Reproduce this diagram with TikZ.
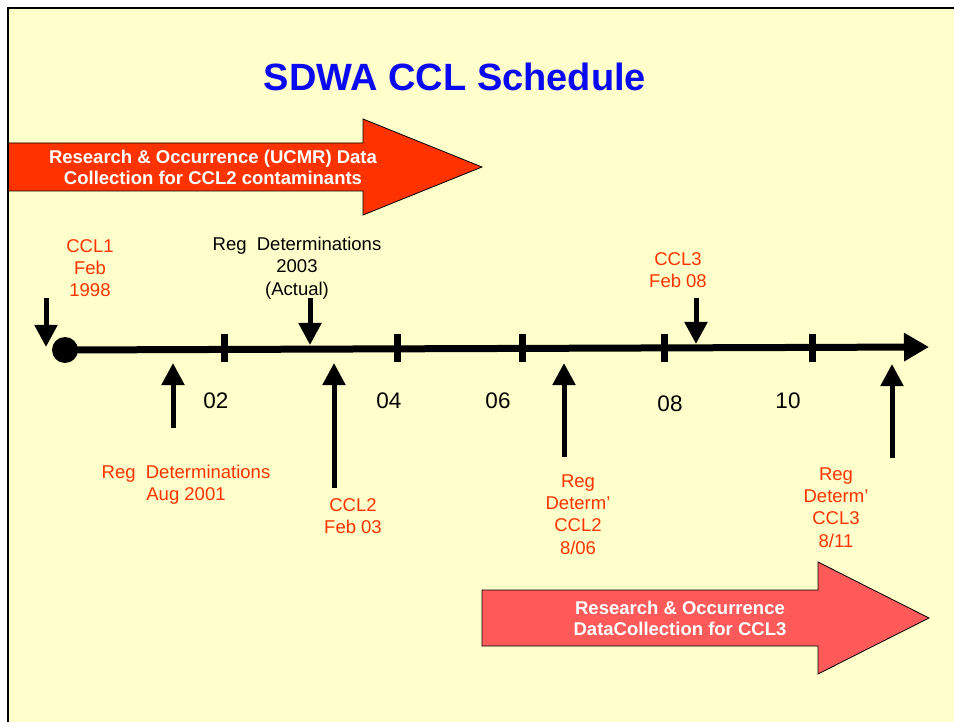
\documentclass[tikz,border=0pt]{standalone}
\usepackage{fontspec}
\setmainfont{Liberation Sans}
\usetikzlibrary{arrows.meta}
\definecolor{bgyellow}{HTML}{FFFFCC}
\definecolor{redtxt}{HTML}{FF3300}
\definecolor{topfill}{HTML}{FF3300}
\definecolor{botfill}{HTML}{FF5A5A}
\definecolor{titleblue}{HTML}{0A0AF0}
\tikzset{
  lbl/.style={align=center, inner sep=0pt, font=\fontsize{18.5}{22.3}\selectfont},
  redlbl/.style={lbl, text=redtxt},
  blklbl/.style={lbl, text=black},
  yearlbl/.style={inner sep=0pt, font=\fontsize{22.5}{26}\selectfont},
  bandtxt/.style={align=center, inner sep=0pt, text=white, font=\fontsize{18.5}{21.5}\selectfont\bfseries},
  evarrow/.style={line width=5pt, -{Triangle[width=22pt,length=22pt]}},
  tickmark/.style={fill=black, minimum width=7pt, minimum height=28pt, inner sep=0pt, draw=none},
  band/.style={draw=black, line width=0.8pt},
}
\begin{document}
\begin{tikzpicture}[x=1pt,y=-1pt]
\useasboundingbox (0,0) rectangle (954,722);
\clip (0,0) rectangle (954,722);
\fill[white] (0,0) rectangle (954,722);
\fill[bgyellow] (8,8) rectangle (960,730);

% title
\node[inner sep=0pt, text=titleblue, font=\fontsize{38}{44}\selectfont\bfseries] (title) at (455,77) {SDWA CCL Schedule};

% top band arrow
\draw[band, fill=topfill] (8.5,143) -- (363,143) -- (363,119) -- (482,167) -- (363,215) -- (363,191) -- (8.5,191) -- cycle;
\node[bandtxt] (topband) at (213,167.5) {Research \& Occurrence (UCMR) Data\\Collection for CCL2 contaminants};

% bottom band arrow
\draw[band, fill=botfill] (482,590) -- (818,590) -- (818,562) -- (929,618) -- (818,674) -- (818,646) -- (482,646) -- cycle;
\node[bandtxt] (botband) at (680,618.5) {Research \& Occurrence\\DataCollection for CCL3};

% timeline
\node[circle, fill=black, minimum size=26pt, inner sep=0pt] (start) at (65,350) {};
\coordinate (tend) at (929,347);
\draw[line width=7pt, -{Triangle[width=27pt,length=25pt]}] (start.center) -- (tend);

% ticks
\node[tickmark] (t02) at (224,348) {};
\node[tickmark] (t04) at (397,348) {};
\node[tickmark] (t06) at (522,348) {};
\node[tickmark] (t08) at (664,348) {};
\node[tickmark] (t10) at (812,348) {};

% year labels
\node[yearlbl] (y02) at (216,401) {02};
\node[yearlbl] (y04) at (389,401) {04};
\node[yearlbl] (y06) at (498,401) {06};
\node[yearlbl] (y08) at (670,404) {08};
\node[yearlbl] (y10) at (788,401) {10};

% labels above
\node[redlbl] (ccl1) at (90,268) {CCL1\\Feb\\1998};
\node[blklbl] (reg03) at (297,268) {Reg\ \ Determinations\\2003\\(Actual)};
\node[redlbl] (ccl3) at (678,270) {CCL3\\Feb 08};

% labels below
\node[redlbl] (reg01) at (186,485) {Reg\ \ Determinations\\Aug 2001};
\node[redlbl] (ccl2) at (353,516) {CCL2\\Feb 03};
\node[redlbl] (det2) at (578,514.5) {Reg\\Determ’\\CCL2\\8/06};
\node[redlbl] (det3) at (836,507.5) {Reg\\Determ’\\CCL3\\8/11};

% arrow coordinates
\coordinate (a1s) at (46,298);  \coordinate (a1e) at (46,347);
\coordinate (a2s) at (310,298); \coordinate (a2e) at (310,345);
\coordinate (a3s) at (696,298); \coordinate (a3e) at (696,344);
\coordinate (b1s) at (173,428); \coordinate (b1e) at (173,363);
\coordinate (b2s) at (334,488); \coordinate (b2e) at (334,363);
\coordinate (b3s) at (564,457); \coordinate (b3e) at (564,363);
\coordinate (b4s) at (892,458); \coordinate (b4e) at (892,364);

\draw[evarrow] (a1s) -- (a1e);
\draw[evarrow] (a2s) -- (a2e);
\draw[evarrow] (a3s) -- (a3e);
\draw[evarrow] (b1s) -- (b1e);
\draw[evarrow] (b2s) -- (b2e);
\draw[evarrow] (b3s) -- (b3e);
\draw[evarrow] (b4s) -- (b4e);

% frame border on top
\draw[line width=2.5pt] (8,730) -- (8,8) -- (960,8);
\end{tikzpicture}
\end{document}
